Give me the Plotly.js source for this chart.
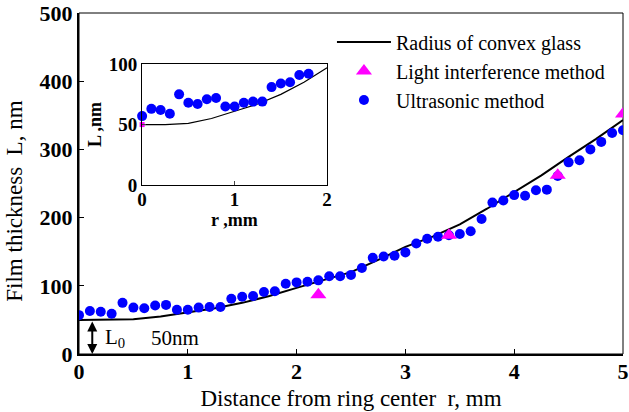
<!DOCTYPE html>
<html>
<head>
<meta charset="utf-8">
<script src="https://cdn.plot.ly/plotly-3.0.1.min.js"></script>
<style>html,body{margin:0;padding:0;background:#fff;}#chart{width:629px;height:412px;}</style>
</head>
<body>
<div id="chart"></div>
<script>
// Radius of convex glass (theoretical curve)
const glassR = [0, 0.25, 0.5, 0.75, 1.0, 1.25, 1.5, 1.75, 2.0, 2.25, 2.5, 2.75, 3.0, 3.25, 3.5, 3.75, 4.0, 4.25, 4.5, 4.75, 5.0];
const glassL = [50, 50, 51, 55, 61, 67, 75, 85, 97, 108, 120, 138, 157, 172, 190, 213, 238, 262, 289, 315, 343];

// Light interference method
const lightR = [2.2, 3.4, 4.4, 5.0];
const lightL = [87, 174, 262, 352];

// Ultrasonic method
const ultraR = [0, 0.1, 0.2, 0.3, 0.4, 0.5, 0.6, 0.7, 0.8, 0.9, 1.0, 1.1, 1.2, 1.3, 1.4, 1.5, 1.6, 1.7, 1.8, 1.9,
  2.0, 2.1, 2.2, 2.3, 2.4, 2.5, 2.6, 2.7, 2.8, 2.9, 3.0, 3.1, 3.2, 3.3, 3.4, 3.5, 3.6, 3.7, 3.8, 3.9,
  4.0, 4.1, 4.2, 4.3, 4.4, 4.5, 4.6, 4.7, 4.8, 4.9, 5.0];
const ultraL = [57, 63, 62, 59, 75, 68, 67, 71, 72, 65, 65, 68, 69, 69, 81, 84, 85, 91, 92, 103,
  105, 106, 108, 114, 114, 116, 126, 141, 143, 144, 149, 162, 169, 172, 174, 176, 180, 198, 222, 225,
  233, 232, 240, 241, 261, 281, 284, 300, 311, 324, 328];

// Inset (r <= 2 mm)
const insetMaxR = 2;
const insetLightR = [0];
const insetLightL = [50];

const xTicks = [0, 1, 2, 3, 4, 5];
const yTicks = [0, 100, 200, 300, 400, 500];

const serif = "Liberation Serif";
const inR = ultraR.filter(r => r <= insetMaxR);
const inL = ultraL.slice(0, inR.length);
const gIdx = glassR.map((r, i) => i).filter(i => glassR[i] <= insetMaxR);

const traces = [
  {x: glassR, y: glassL, type: 'scatter', mode: 'lines', name: 'Radius of convex glass',
   line: {color: '#000', width: 2}, legendrank: 1},
  {x: ultraR, y: ultraL, type: 'scatter', mode: 'markers', name: 'Ultrasonic method',
   marker: {color: '#0000FF', size: 10, symbol: 'circle'}, legendrank: 3},
  {x: lightR, y: lightL, type: 'scatter', mode: 'markers', name: 'Light interference method',
   marker: {color: '#FF00FF', size: 14, symbol: 'triangle-up'}, legendrank: 2},
  {x: gIdx.map(i => glassR[i]), y: gIdx.map(i => glassL[i]), xaxis: 'x2', yaxis: 'y2', type: 'scatter', mode: 'lines',
   line: {color: '#000', width: 1.2}, showlegend: false},
  {x: insetLightR, y: insetLightL, xaxis: 'x2', yaxis: 'y2', type: 'scatter', mode: 'markers',
   marker: {color: '#FF00FF', size: 5, symbol: 'square'}, showlegend: false, cliponaxis: false},
  {x: inR, y: inL, xaxis: 'x2', yaxis: 'y2', type: 'scatter', mode: 'markers',
   marker: {color: '#0000FF', size: 10}, showlegend: false, cliponaxis: false}
];

const layout = {
  width: 629, height: 412,
  margin: {l: 79, r: 5.5, t: 13, b: 58},
  paper_bgcolor: '#fff', plot_bgcolor: '#fff',
  font: {family: serif, color: '#000'},
  showlegend: true,
  legend: {x: 0.465, y: 0.972, xanchor: 'left', yanchor: 'top', bgcolor: 'rgba(255,255,255,0)',
    font: {family: serif, size: 20, color: '#000'}, itemwidth: 54, tracegroupgap: 0},
  xaxis: {range: [0, 5], tickvals: xTicks, ticktext: xTicks.map(String), showgrid: false, zeroline: false,
    showline: true, linecolor: '#000', linewidth: 2, ticks: 'inside', ticklen: 5, tickcolor: '#000',
    ticklabelstandoff: -3,
    tickfont: {family: serif, size: 22, weight: 'bold'},
    title: {text: 'Distance from ring center  r, mm', font: {family: serif, size: 23}, standoff: 6}},
  yaxis: {range: [0, 500], tickvals: yTicks, ticktext: yTicks.map(String), showgrid: false, zeroline: false,
    showline: true, linecolor: '#000', linewidth: 2, ticks: 'inside', ticklen: 5, tickcolor: '#000',
    tickfont: {family: serif, size: 22, weight: 'bold'}},
  xaxis2: {domain: [0.116, 0.456], anchor: 'y2', range: [0, 2], tickvals: [0, 1, 2], showgrid: false, zeroline: false,
    showline: true, mirror: true, linecolor: '#000', linewidth: 1, ticks: 'inside', ticklen: 4,
    ticklabelstandoff: -3,
    tickfont: {family: serif, size: 19, weight: 'bold'}},
  yaxis2: {domain: [0.4956, 0.850], anchor: 'x2', range: [0, 100], tickvals: [0, 50, 100], showgrid: false, zeroline: false,
    showline: true, mirror: true, linecolor: '#000', linewidth: 1, ticks: 'inside', ticklen: 4,
    tickfont: {family: serif, size: 19, weight: 'bold'},
    title: {text: 'L ,nm', font: {family: serif, size: 18, weight: 'bold'}, standoff: 2}},
  shapes: [
    {type: 'rect', xref: 'paper', yref: 'paper', x0: 0, x1: 1, y0: 0, y1: 1, line: {color: '#000', width: 1}, layer: 'below'}
  ],
  annotations: [
    {x: 0.122, y: 0, xref: 'x', yref: 'y', ax: 0.122, ay: 50, axref: 'x', ayref: 'y', text: '',
     showarrow: true, arrowhead: 2, startarrowhead: 2, arrowside: 'end+start', arrowsize: 1, arrowwidth: 2, arrowcolor: '#000'},
    {x: 0.33, y: 24, xref: 'x', yref: 'y', text: 'L<sub>0</sub>', showarrow: false,
     font: {family: serif, size: 21}},
    {x: 0.88, y: 24, xref: 'x', yref: 'y', text: '50nm', showarrow: false,
     font: {family: serif, size: 21}},
    {x: -0.118, y: 0.449, xref: 'paper', yref: 'paper', xanchor: 'center', yanchor: 'middle', textangle: -90,
     text: 'Film thickness  L, nm', showarrow: false, font: {family: serif, size: 23}},
    {x: 0.286, y: 0.394, xref: 'paper', yref: 'paper', xanchor: 'center', yanchor: 'middle',
     text: 'r ,mm', showarrow: false, font: {family: serif, size: 18, weight: 'bold'}}
  ]
};

Plotly.newPlot('chart', traces, layout, {displayModeBar: false, staticPlot: true});
</script>
</body>
</html>
